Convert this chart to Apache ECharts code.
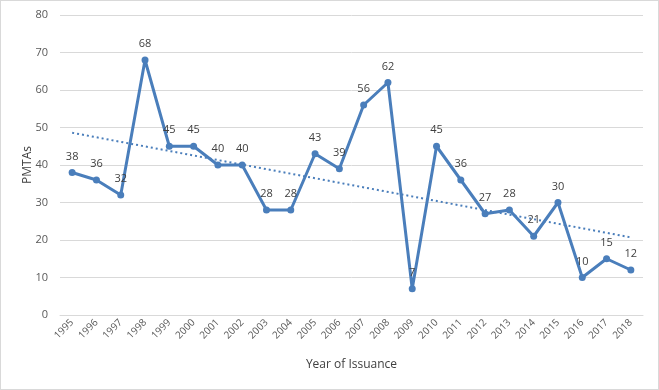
<!DOCTYPE html>
<html><head><meta charset="utf-8">
<script src="https://cdn.jsdelivr.net/npm/echarts@6/dist/echarts.min.js"></script>
<style>html,body{margin:0;padding:0;background:#fff}#c{width:657px;height:388px;border:1px solid #d9d9d9}</style>
</head><body><div id="c"></div>
<script>
const years = ['1995','1996','1997','1998','1999','2000','2001','2002','2003','2004','2005','2006','2007','2008','2009','2010','2011','2012','2013','2014','2015','2016','2017','2018'];
const pmtas = [38,36,32,68,45,45,40,40,28,28,43,39,56,62,7,45,36,27,28,21,30,10,15,12];
const trendStart = 48.6;
const trendEnd = 20.7;
const yTicks = [0,80,10];

const trend = years.map((y,i)=> (i===0? trendStart : (i===years.length-1? trendEnd : null)));
const chart = echarts.init(document.getElementById('c'));
const font = '"Open Sans", sans-serif';
chart.setOption({
  animation:false,
  grid:{left:59,right:15,top:14,bottom:74},
  xAxis:{type:'category',data:years,boundaryGap:true,
    axisLine:{lineStyle:{color:'#d9d9d9'}},axisTick:{show:false},
    axisLabel:{rotate:45,color:'#595959',fontSize:10,fontFamily:font,interval:0,margin:6},
    name:'Year of Issuance',nameLocation:'middle',nameGap:44,nameMoveOverlap:false,
    nameTextStyle:{color:'#404040',fontSize:12,fontFamily:font}},
  yAxis:{type:'value',min:yTicks[0],max:yTicks[1],interval:yTicks[2],
    axisLine:{show:false},axisTick:{show:false},
    splitLine:{lineStyle:{color:'#d9d9d9'}},
    axisLabel:{color:'#595959',fontSize:11,fontFamily:font,margin:12},
    name:'PMTAs',nameLocation:'middle',nameGap:26,nameMoveOverlap:false,
    nameTextStyle:{color:'#404040',fontSize:12,fontFamily:font}},
  series:[
    {type:'line',data:trend,connectNulls:true,symbol:'none',
      lineStyle:{color:'#4a7ebb',width:2,type:[2,3]},z:1,silent:true},
    {type:'line',data:pmtas,symbol:'circle',symbolSize:7,
      lineStyle:{color:'#4a7ebb',width:3},itemStyle:{color:'#4a7ebb'},
      label:{show:true,position:'top',distance:7,color:'#404040',fontSize:11,fontFamily:font},z:2}
  ]
});
</script></body></html>
